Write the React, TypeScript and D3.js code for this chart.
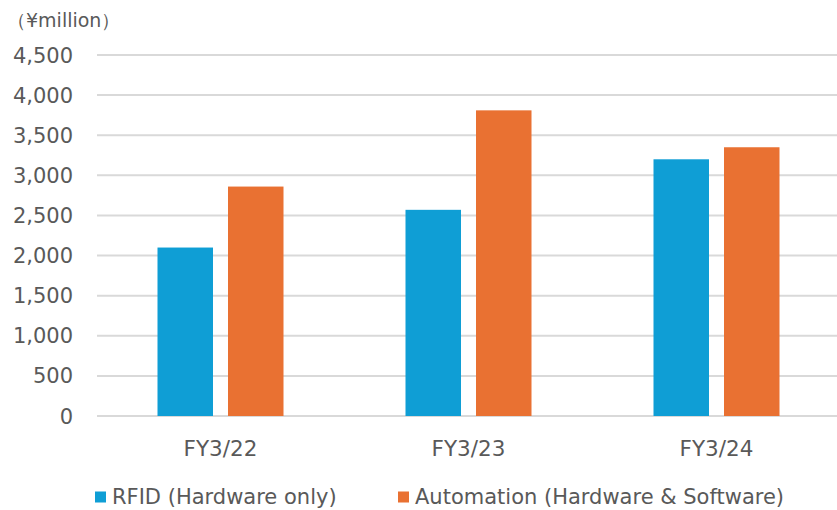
import React from "react";
import * as d3 from "d3";

const categories = ["FY3/22", "FY3/23", "FY3/24"];
const seriesNames = ["RFID (Hardware only)", "Automation (Hardware & Software)"];
const rfid = [2100, 2570, 3200];
const automation = [2860, 3810, 3350];
const yTicks = [0, 500, 1000, 1500, 2000, 2500, 3000, 3500, 4000, 4500];
const unitLabel = "（¥million）";
const colors = ["#0f9ed5", "#e97132"];

const W = 837;
const H = 510;
const FONT = "'DejaVu Sans', Verdana, sans-serif";
const TEXT = "#595959";

export default function App() {
  const x0 = d3.scaleBand<string>().domain(categories).range([96.5, 840.5]).paddingInner(0).paddingOuter(0);
  const y = d3.scaleLinear().domain([0, 4500]).range([416, 55]);
  const x1 = d3.scaleBand<number>().domain([0, 1]).range([61, 187]).paddingInner(0.213).paddingOuter(0);
  const series = [rfid, automation];
  const fmt = d3.format(",");

  return (
    <svg width={W} height={H} style={{ position: "absolute", left: 0, top: 0, background: "#fff" }}>
      <text x={7} y={27} fontFamily={FONT} fontSize={19} fill={TEXT}>{unitLabel}</text>
      {yTicks.map((t) => (
        <g key={t}>
          <line x1={97} x2={W} y1={y(t)} y2={y(t)} stroke="#d9d9d9" strokeWidth={2} />
          <text x={73} y={y(t)} dy="0.36em" textAnchor="end" fontFamily={FONT} fontSize={21} fill={TEXT}>
            {fmt(t)}
          </text>
        </g>
      ))}
      {categories.map((c, i) => (
        <g key={c} transform={`translate(${x0(c)},0)`}>
          {series.map((s, j) => (
            <rect key={j} x={x1(j)} y={y(s[i])} width={x1.bandwidth()} height={y(0) - y(s[i])} fill={colors[j]} />
          ))}
          <text x={x0.bandwidth() / 2} y={456} textAnchor="middle" fontFamily={FONT} fontSize={21.5} fill={TEXT}>
            {c}
          </text>
        </g>
      ))}
      {seriesNames.map((n, j) => {
        const lx = j === 0 ? 95 : 398;
        return (
          <g key={n}>
            <rect x={lx} y={491.5} width={11} height={11} fill={colors[j]} />
            <text x={lx + 17} y={503.5} fontFamily={FONT} fontSize={21} fill={TEXT}>{n}</text>
          </g>
        );
      })}
    </svg>
  );
}
